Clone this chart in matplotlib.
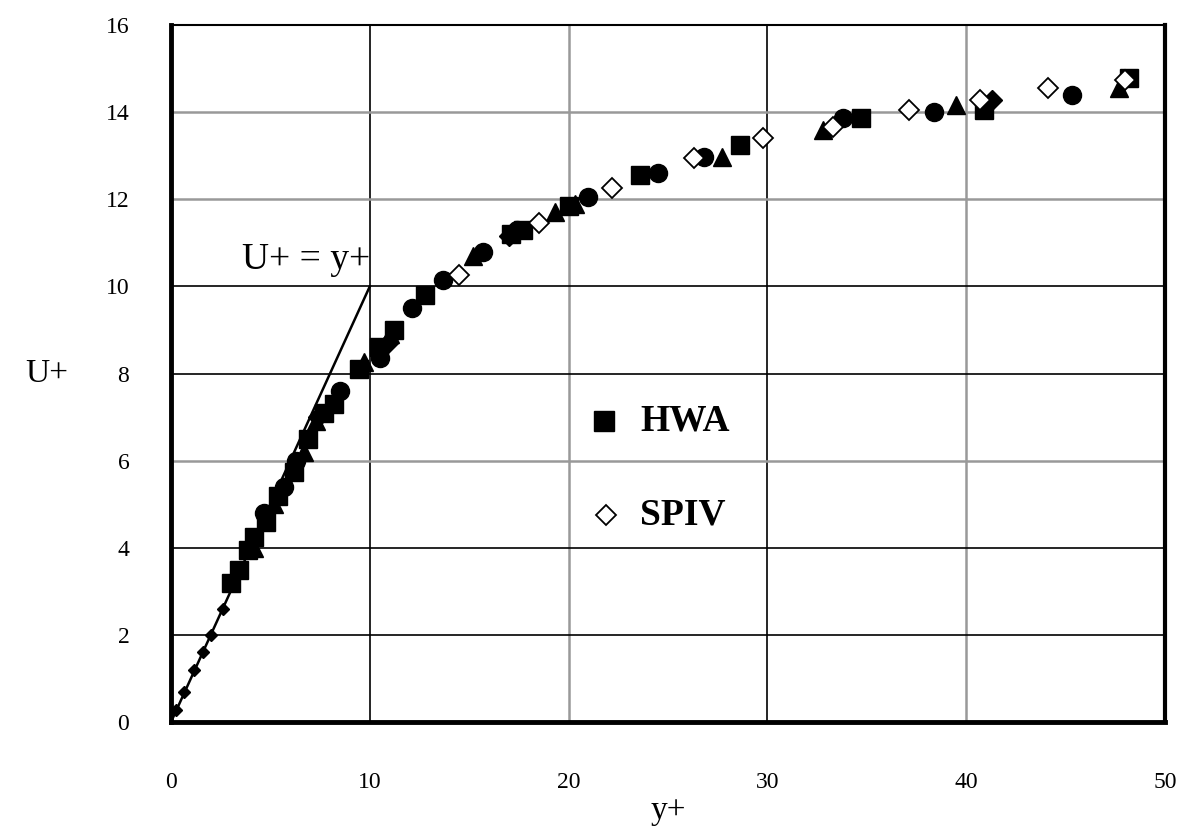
import matplotlib
matplotlib.use("Agg")
import matplotlib.pyplot as plt

plt.rcParams['font.family'] = ['Liberation Serif', 'DejaVu Serif']

# HWA (filled squares)
hwa_x = [3.0, 3.4, 3.85, 4.2, 4.8, 5.4, 6.2, 6.9, 7.7, 8.2, 9.45, 10.45, 11.2, 12.8,
         17.1, 17.7, 20.0, 23.6, 28.6, 34.7, 40.9, 48.2]
hwa_y = [3.2, 3.5, 3.95, 4.25, 4.6, 5.2, 5.75, 6.5, 7.1, 7.3, 8.1, 8.6, 9.0, 9.8,
         11.2, 11.3, 11.85, 12.55, 13.25, 13.87, 14.05, 14.78]

# SPIV (open diamonds)
spiv_x = [14.5, 18.5, 22.2, 26.3, 29.8, 33.3, 37.1, 40.7, 44.1, 48.0]
spiv_y = [10.26, 11.45, 12.26, 12.95, 13.4, 13.66, 14.05, 14.28, 14.55, 14.74]

# other filled circles
circ_x = [4.7, 5.7, 6.3, 8.5, 10.5, 12.1, 13.7, 15.7, 17.4, 21.0, 24.5, 26.8, 33.8, 38.4, 45.3]
circ_y = [4.8, 5.4, 6.0, 7.6, 8.35, 9.5, 10.15, 10.8, 11.3, 12.05, 12.6, 12.97, 13.87, 14.0, 14.4]

# other filled triangles
tri_x = [4.2, 5.2, 6.7, 7.3, 9.7, 11.0, 15.2, 19.3, 20.3, 27.7, 32.8, 39.5, 47.7]
tri_y = [4.0, 5.0, 6.2, 6.9, 8.26, 8.9, 10.7, 11.7, 11.9, 12.97, 13.6, 14.16, 14.55]

# other filled diamonds
fdia_x = [7.4, 10.9, 17.0, 41.3]
fdia_y = [7.0, 8.7, 11.15, 14.28]

# near-wall small points
wall_x = [0.25, 0.65, 1.16, 1.6, 2.0, 2.6]
wall_y = [0.28, 0.7, 1.2, 1.6, 2.0, 2.6]

# viscous sublayer line U+ = y+
lin_x = [0, 10]
lin_y = [0, 10]

fig = plt.figure(figsize=(11.85, 8.35), dpi=100)
ax = fig.add_axes([0.1443, 0.1353, 0.9831 - 0.1443, 0.970 - 0.1353])

ax.set_xlim(0, 50)
ax.set_ylim(0, 16)
ax.set_xticks([0, 10, 20, 30, 40, 50])
ax.set_yticks([0, 2, 4, 6, 8, 10, 12, 14, 16])
ax.grid(True, color='black', linewidth=1.2)
ax.set_axisbelow(True)
gray = '#999999'
for i, gl in enumerate(ax.get_xgridlines()):
    if i in (2, 4):
        gl.set_color(gray)
        gl.set_linewidth(1.8)
for i, gl in enumerate(ax.get_ygridlines()):
    if i in (3, 6, 7):
        gl.set_color(gray)
        gl.set_linewidth(1.8)

ax.plot(lin_x, lin_y, color='black', linewidth=1.8, zorder=3)
ax.plot(wall_x, wall_y, linestyle='none', marker='D', markersize=6, color='black', zorder=4)
ax.plot(circ_x, circ_y, linestyle='none', marker='o', markersize=13, color='black', zorder=4)
ax.plot(tri_x, tri_y, linestyle='none', marker='^', markersize=13, color='black', zorder=4)
ax.plot(fdia_x, fdia_y, linestyle='none', marker='D', markersize=10.5, color='black', zorder=4)
ax.plot(hwa_x, hwa_y, linestyle='none', marker='s', markersize=13, color='black', zorder=5)
ax.plot(spiv_x, spiv_y, linestyle='none', marker='D', markersize=10.5,
        markerfacecolor='white', markeredgecolor='black', markeredgewidth=1.3, zorder=6)

ax.text(10, 10.22, 'U+ = y+', fontsize=27, ha='right', va='bottom')

# in-plot legend
ax.plot([21.8], [6.9], marker='s', markersize=14, color='black', linestyle='none', zorder=6)
ax.plot([21.9], [4.75], marker='D', markersize=10.5, markerfacecolor='white',
        markeredgecolor='black', markeredgewidth=1.3, linestyle='none', zorder=6)
ax.text(23.6, 6.9, 'HWA', fontsize=27, fontweight='bold', va='center', ha='left')
ax.text(23.6, 4.75, 'SPIV', fontsize=27, fontweight='bold', va='center', ha='left')

for side in ('left', 'bottom'):
    ax.spines[side].set_linewidth(3.5)
ax.spines['right'].set_linewidth(3)
ax.spines['top'].set_linewidth(1.5)

ax.tick_params(axis='both', length=0, labelsize=17)
ax.tick_params(axis='x', pad=36)
ax.tick_params(axis='y', pad=30)

ax.set_xlabel('y+', fontsize=24, labelpad=2)
ax.set_ylabel('U+', fontsize=24, rotation=0, labelpad=42, va='center')

fig.savefig('out.png', dpi=100)
